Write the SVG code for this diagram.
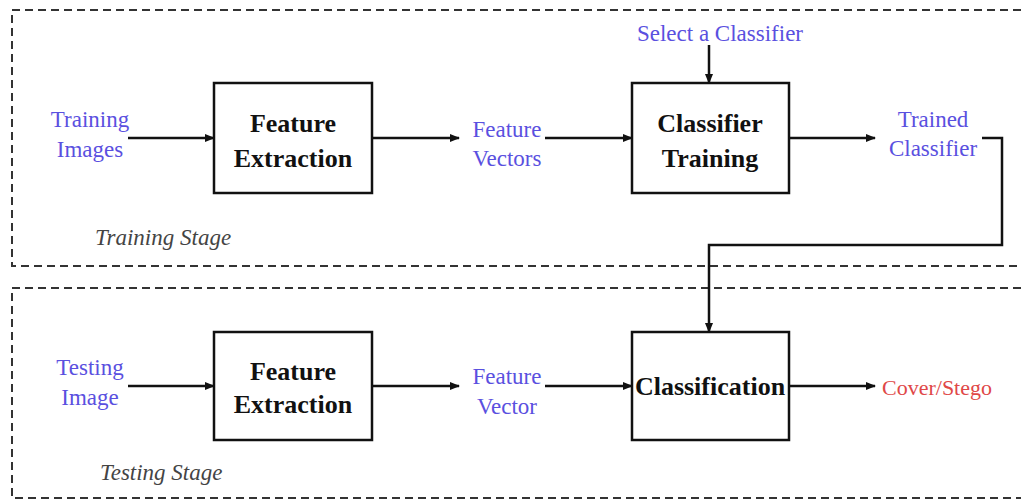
<svg xmlns="http://www.w3.org/2000/svg" width="1021" height="502" viewBox="0 0 1021 502">
<defs>
<marker id="ah" markerWidth="10" markerHeight="8" refX="9" refY="4" orient="auto" markerUnits="userSpaceOnUse">
<path d="M0,0 L10,4 L0,8 Z" fill="#111"/>
</marker>
<style>
.stage{fill:none;stroke:#333;stroke-width:2;stroke-dasharray:8,5}
.box{fill:#fff;stroke:#111;stroke-width:2.5}
.btxt{font-family:"Liberation Serif",serif;font-weight:bold;font-size:26px;fill:#111;text-anchor:middle}
.lbl{font-family:"Liberation Serif",serif;font-size:23px;fill:#5a50e0;text-anchor:middle}
.red{font-family:"Liberation Serif",serif;font-size:22px;fill:#e04848}
.st{font-family:"Liberation Serif",serif;font-style:italic;font-size:23px;fill:#444}
.con{fill:none;stroke:#111;stroke-width:2.5;marker-end:url(#ah)}
</style>
</defs>
<rect width="1021" height="502" fill="#fff"/>
<g id="training-stage">
<path class="stage" d="M1021,10 L12,10 L12,266 L1021,266"/>
<text class="st" x="95" y="245">Training Stage</text>
</g>
<g id="testing-stage">
<path class="stage" d="M1021,288 L12,288 L12,498 L1021,498"/>
<text class="st" x="100" y="480">Testing Stage</text>
</g>
<g id="training-images"><text class="lbl" x="90" y="127">Training</text><text class="lbl" x="90" y="157">Images</text></g>
<g id="feature-extraction-1"><rect class="box" x="214" y="83" width="158" height="110"/><text class="btxt" x="293" y="132">Feature</text><text class="btxt" x="293" y="167">Extraction</text></g>
<g id="feature-vectors"><text class="lbl" x="507" y="137">Feature</text><text class="lbl" x="507" y="166">Vectors</text></g>
<g id="select-classifier"><text class="lbl" x="720" y="41">Select a Classifier</text></g>
<g id="classifier-training"><rect class="box" x="632" y="83" width="157" height="110"/><text class="btxt" x="710" y="132">Classifier</text><text class="btxt" x="710" y="167">Training</text></g>
<g id="trained-classifier"><text class="lbl" x="933" y="127">Trained</text><text class="lbl" x="933" y="156">Classifier</text></g>
<g id="testing-image"><text class="lbl" x="90" y="375">Testing</text><text class="lbl" x="90" y="405">Image</text></g>
<g id="feature-extraction-2"><rect class="box" x="214" y="332" width="158" height="108"/><text class="btxt" x="293" y="380">Feature</text><text class="btxt" x="293" y="413">Extraction</text></g>
<g id="feature-vector"><text class="lbl" x="507" y="384">Feature</text><text class="lbl" x="507" y="414">Vector</text></g>
<g id="classification"><rect class="box" x="632" y="332" width="157" height="108"/><text class="btxt" x="710" y="395">Classification</text></g>
<g id="cover-stego"><text class="red" x="882" y="395">Cover/Stego</text></g>
<g id="connectors">
<path class="con" d="M128,138 L214,138"/>
<path class="con" d="M372,138 L459,138"/>
<path class="con" d="M545,138 L632,138"/>
<path class="con" d="M789,138 L875,138"/>
<path class="con" d="M709,45 L709,83"/>
<path class="con" d="M982,138 L1002,138 L1002,245 L709,245 L709,332"/>
<path class="con" d="M128,386 L214,386"/>
<path class="con" d="M372,386 L459,386"/>
<path class="con" d="M545,386 L632,386"/>
<path class="con" d="M789,386 L875,386"/>
</g>
</svg>
